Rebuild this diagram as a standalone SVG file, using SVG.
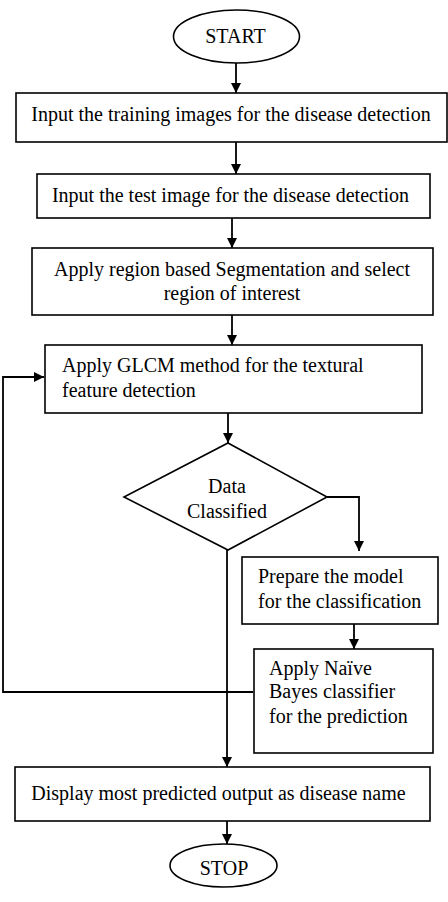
<svg xmlns="http://www.w3.org/2000/svg" width="448" height="902" viewBox="0 0 448 902">
<defs>
<marker id="ah" markerWidth="10" markerHeight="13" refX="10" refY="5" orient="auto" markerUnits="userSpaceOnUse" viewBox="0 0 10 10">
<path d="M0,0 L10,5 L0,10 Z" fill="#000"/>
</marker>
<style>
.s{fill:#fff;stroke:#000;stroke-width:1.6}
.t{font-family:"Liberation Serif","Times New Roman",serif;font-size:20px;fill:#000}
.c{text-anchor:middle}
.e{fill:none;stroke:#000;stroke-width:1.8}
</style>
</defs>
<rect width="448" height="902" fill="#fff"/>
<g id="connectors">
<line class="e" x1="236" y1="63" x2="236" y2="93" marker-end="url(#ah)"/>
<line class="e" x1="236" y1="142" x2="236" y2="174" marker-end="url(#ah)"/>
<line class="e" x1="232" y1="218" x2="232" y2="248" marker-end="url(#ah)"/>
<line class="e" x1="232" y1="315" x2="232" y2="345" marker-end="url(#ah)"/>
<line class="e" x1="228" y1="413" x2="228" y2="443" marker-end="url(#ah)"/>
<polyline class="e" points="327,497 359,497 359,551" marker-end="url(#ah)"/>
<line class="e" x1="354" y1="624" x2="354" y2="649" marker-end="url(#ah)"/>
<polyline class="e" points="253,692 3,692 3,377 44,377" marker-end="url(#ah)"/>
<line class="e" x1="227" y1="550" x2="227" y2="767" marker-end="url(#ah)"/>
<line class="e" x1="227" y1="821" x2="227" y2="844" marker-end="url(#ah)"/>
</g>
<g id="start">
<ellipse class="s" cx="236.5" cy="36.5" rx="63" ry="26.5"/>
<text class="t c" x="235.5" y="43">START</text>
</g>
<g id="train">
<rect class="s" x="16" y="93" width="431" height="49"/>
<text class="t c" x="231" y="121">Input the training images for the disease detection</text>
</g>
<g id="test">
<rect class="s" x="37" y="174" width="393" height="44"/>
<text class="t c" x="230.5" y="202">Input the test image for the disease detection</text>
</g>
<g id="segment">
<rect class="s" x="32" y="248" width="401" height="67"/>
<text class="t c" x="232" y="276">Apply region based Segmentation and select</text>
<text class="t c" x="232" y="300">region of interest</text>
</g>
<g id="glcm">
<rect class="s" x="45" y="345" width="377" height="68"/>
<text class="t" x="62" y="372">Apply GLCM method for the textural</text>
<text class="t" x="62" y="397">feature detection</text>
</g>
<g id="decision">
<polygon class="s" points="228,443 327,497 228,550 124,497"/>
<text class="t c" x="227" y="493">Data</text>
<text class="t c" x="227" y="518">Classified</text>
</g>
<g id="prepare">
<rect class="s" x="242" y="557" width="196" height="67"/>
<text class="t" x="258" y="583">Prepare the model</text>
<text class="t" x="258" y="608">for the classification</text>
</g>
<g id="bayes">
<rect class="s" x="254" y="649" width="179" height="104"/>
<text class="t" x="269" y="675">Apply Naïve</text>
<text class="t" x="269" y="698">Bayes classifier</text>
<text class="t" x="269" y="723">for the prediction</text>
</g>
<g id="display">
<rect class="s" x="15" y="767" width="415" height="54"/>
<text class="t c" x="218.5" y="800">Display most predicted output as disease name</text>
</g>
<g id="stop">
<ellipse class="s" cx="223.5" cy="865.5" rx="53.5" ry="21.5"/>
<text class="t c" x="224" y="875">STOP</text>
</g>
</svg>
